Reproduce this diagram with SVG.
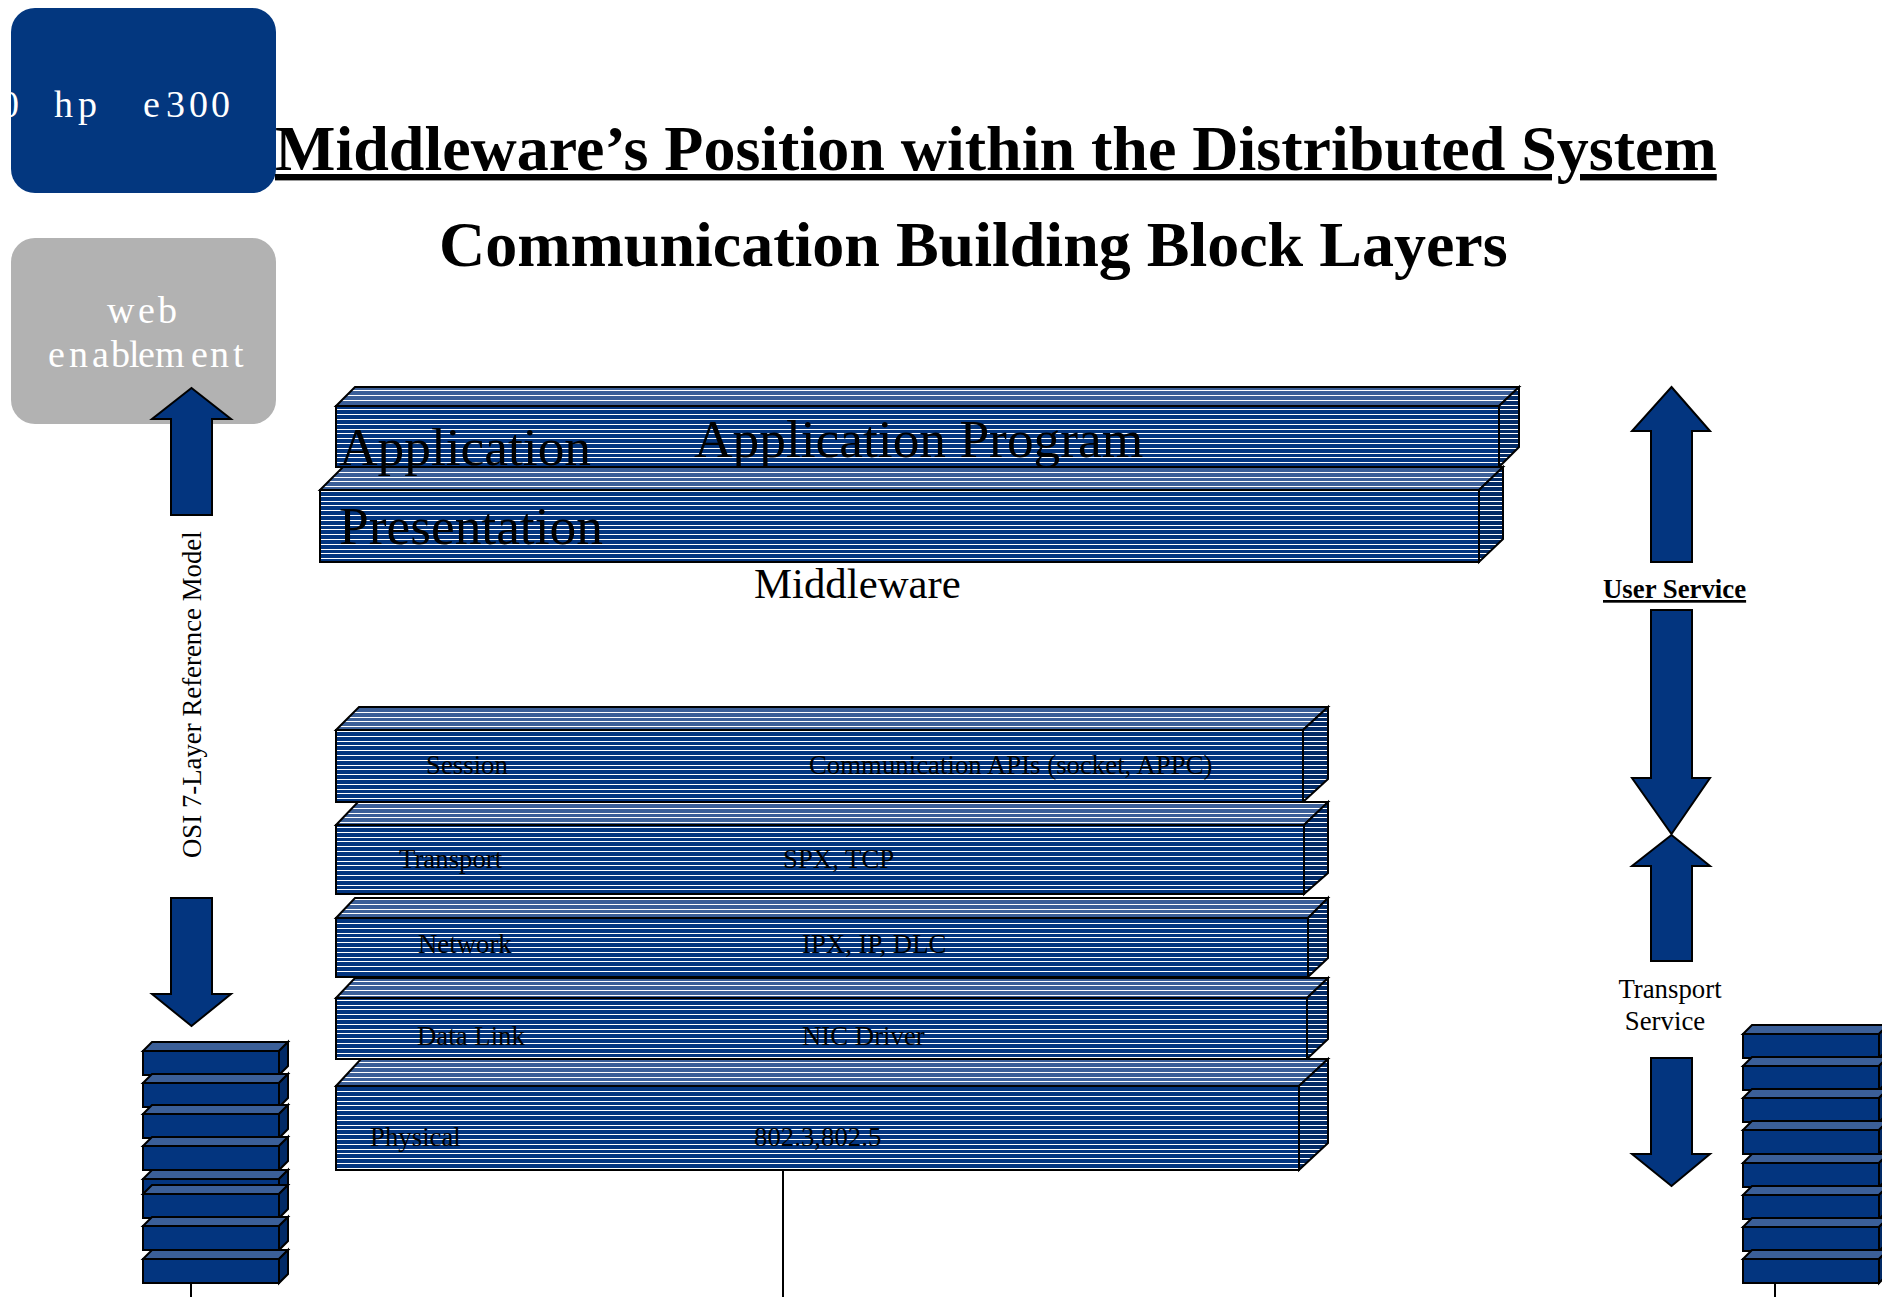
<svg xmlns="http://www.w3.org/2000/svg" width="1891" height="1297" viewBox="0 0 1891 1297">
<defs>
<pattern id="pf" patternUnits="userSpaceOnUse" width="10" height="24"><rect width="10" height="24" fill="#03357f"/><path d="M0 1.5H10M0 6.5H10M0 11.5H10M0 16.5H10M0 21.5H10" stroke="#fff" stroke-width="1"/></pattern>
<pattern id="pt" patternUnits="userSpaceOnUse" width="10" height="24"><rect width="10" height="24" fill="#3b5f98"/><path d="M0 1.5H10M0 6.5H10M0 11.5H10M0 16.5H10M0 21.5H10" stroke="#fff" stroke-width="1"/></pattern>
<pattern id="ps" patternUnits="userSpaceOnUse" width="10" height="24"><rect width="10" height="24" fill="#022a66"/><path d="M0 1.5H10M0 6.5H10M0 11.5H10M0 16.5H10M0 21.5H10" stroke="#fff" stroke-width="1"/></pattern>
<g id="mini"><polygon class="mt" points="0,9 9,0 145,0 136,9"/><rect class="mf" x="0" y="9" width="136" height="24"/><polygon class="ms" points="136,9 145,0 145,24 136,33"/></g>
<clipPath id="edge"><rect x="0" y="0" width="1882" height="1297"/></clipPath>
</defs>
<style>
.ft{fill:url(#pf)}.tp{fill:url(#pt)}.sd{fill:url(#ps)}
.ft,.tp,.sd,.mt,.mf,.ms,.ar{stroke:#000;stroke-width:2;stroke-linejoin:miter}
.mt{fill:#3b5f98}.mf{fill:#03357f}.ms{fill:#022a66}.ar{fill:#03357f}
text{font-family:"Liberation Serif","Times New Roman",serif;fill:#000}
.ttl{font-size:64px;font-weight:bold}
.big{font-size:53.4px}.mid{font-size:42.8px}.sm{font-size:26.8px}
.u{text-decoration:underline}
.wh{fill:#fff;font-size:38px}
.ln{stroke:#000;stroke-width:2;fill:none}
</style>
<g id="badge-hp"><rect x="11" y="8" width="265" height="185" rx="24" fill="#03377f"/><text class="wh" x="54 78 117 143 166 189 211 0" y="117">hp e3000</text></g>
<g id="badge-web"><rect x="11" y="238" width="265" height="186" rx="24" fill="#b2b2b2"/><text class="wh" x="107 138 158" y="323">web</text><text class="wh" x="48 69 92 111 129 138 155 191 210 233" y="367">enablement</text></g>
<g id="title"><text class="ttl u" x="275" y="170">Middleware’s Position within the Distributed System</text><text class="ttl" x="439" y="266">Communication Building Block Layers</text></g>
<g id="connectors">
<line class="ln" x1="783" y1="1171" x2="783" y2="1297"/>
<line class="ln" x1="191" y1="1283" x2="191" y2="1297"/>
<line class="ln" x1="1775" y1="1283" x2="1775" y2="1297"/>
<polygon class="ar" points="191.500,388 231,419 212,419 212,515 171,515 171,419 152,419"/>
<polygon class="ar" points="191.500,1026 231,994 212,994 212,898 171,898 171,994 152,994"/>
<polygon class="ar" points="1671.500,387 1710,431 1692,431 1692,562 1651,562 1651,431 1632,431"/>
<polygon class="ar" points="1671.500,834 1710,778 1692,778 1692,610 1651,610 1651,778 1632,778"/>
<polygon class="ar" points="1671.500,835 1710,866 1692,866 1692,961 1651,961 1651,866 1632,866"/>
<polygon class="ar" points="1671.500,1186 1710,1154 1692,1154 1692,1058 1651,1058 1651,1154 1632,1154"/>
</g>
<g id="app"><polygon class="tp" points="336,406 355,387 1519,387 1499,406"/><rect class="ft" x="336" y="406" width="1163" height="61"/><polygon class="sd" points="1499,406 1519,387 1519,447 1499,467"/></g>
<g id="pres"><polygon class="tp" points="320,490 343,467 1503,467 1479,490"/><rect class="ft" x="320" y="490" width="1159" height="72"/><polygon class="sd" points="1479,490 1503,467 1503,539 1479,562"/></g>
<g id="session"><polygon class="tp" points="336,730 359,707 1328,707 1303,730"/><rect class="ft" x="336" y="730" width="967" height="72"/><polygon class="sd" points="1303,730 1328,707 1328,779 1303,802"/></g>
<g id="transport"><polygon class="tp" points="336,825 358,802 1328,802 1304,825"/><rect class="ft" x="336" y="825" width="968" height="69"/><polygon class="sd" points="1304,825 1328,802 1328,873 1304,894"/></g>
<g id="network"><polygon class="tp" points="336,918 355,898 1328,898 1308,918"/><rect class="ft" x="336" y="918" width="972" height="59"/><polygon class="sd" points="1308,918 1328,898 1328,958 1308,977"/></g>
<g id="datalink"><polygon class="tp" points="336,998 355,978 1328,978 1307,998"/><rect class="ft" x="336" y="998" width="971" height="61"/><polygon class="sd" points="1307,998 1328,978 1328,1039 1307,1059"/></g>
<g id="physical"><polygon class="tp" points="336,1086 361,1059 1328,1059 1299,1086"/><rect class="ft" x="336" y="1086" width="963" height="84"/><polygon class="sd" points="1299,1086 1328,1059 1328,1143 1299,1170"/></g>
<g id="labels">
<text class="big" x="339" y="465">Application</text>
<text class="big" x="694" y="457">Application Program</text>
<text class="big" x="339" y="544">Presentation</text>
<text class="mid" x="754" y="598">Middleware</text>
<text class="sm" x="426" y="774">Session</text><text class="sm" x="809" y="774">Communication APIs (socket, APPC)</text>
<text class="sm" x="399" y="868">Transport</text><text class="sm" x="783" y="868">SPX, TCP</text>
<text class="sm" x="418" y="953">Network</text><text class="sm" x="802" y="953">IPX, IP, DLC</text>
<text class="sm" x="417" y="1045">Data Link</text><text class="sm" x="802" y="1045">NIC Driver</text>
<text class="sm" x="370" y="1146">Physical</text><text class="sm" x="754" y="1146">802.3,802.5</text>
<text class="sm" transform="translate(201,858) rotate(-90)">OSI 7-Layer Reference Model</text>
<text class="sm u" x="1603" y="598" font-weight="bold">User Service</text>
<text class="sm" x="1670" y="998" text-anchor="middle">Transport</text>
<text class="sm" x="1665" y="1030" text-anchor="middle">Service</text>
</g>
<g id="stack-left">
<use href="#mini" x="143" y="1042"/><use href="#mini" x="143" y="1074"/><use href="#mini" x="143" y="1105"/><use href="#mini" x="143" y="1137"/><use href="#mini" x="143" y="1170"/><use href="#mini" x="143" y="1185"/><use href="#mini" x="143" y="1217"/><use href="#mini" x="143" y="1250"/>
</g>
<g id="stack-right" clip-path="url(#edge)">
<use href="#mini" x="1743" y="1025"/><use href="#mini" x="1743" y="1057"/><use href="#mini" x="1743" y="1089"/><use href="#mini" x="1743" y="1121"/><use href="#mini" x="1743" y="1154"/><use href="#mini" x="1743" y="1186"/><use href="#mini" x="1743" y="1218"/><use href="#mini" x="1743" y="1250"/>
</g>
</svg>
